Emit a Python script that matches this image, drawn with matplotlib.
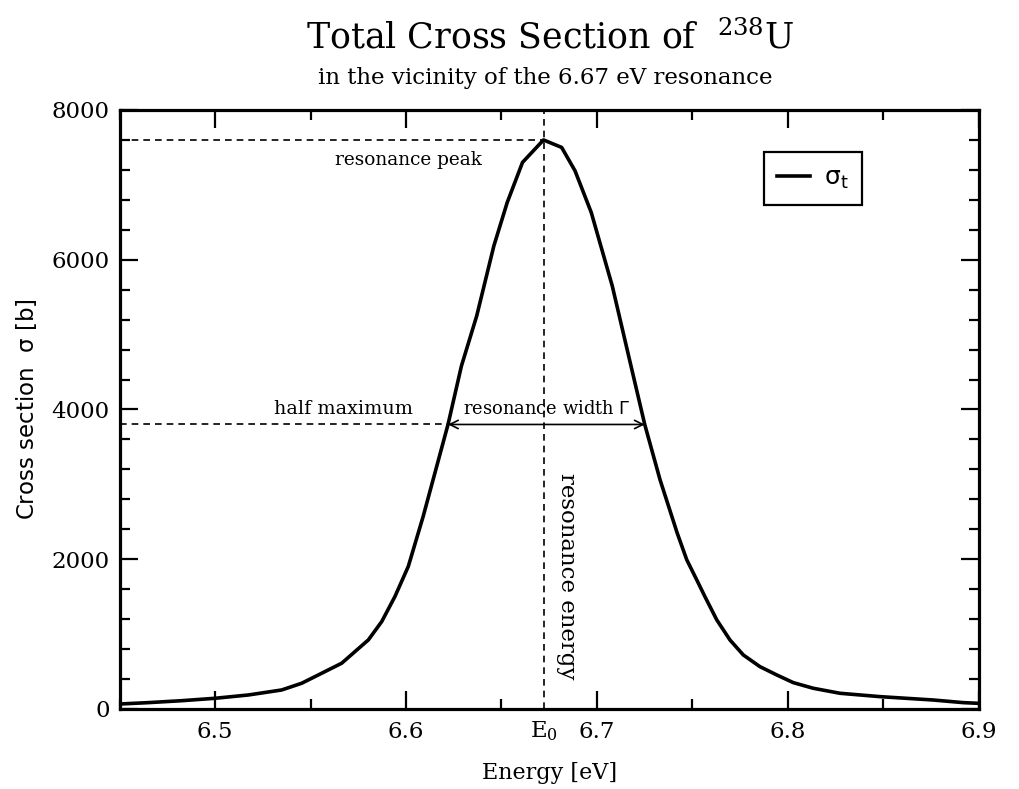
import numpy as np
import matplotlib.pyplot as plt
from matplotlib.ticker import MultipleLocator
from matplotlib.transforms import blended_transform_factory

# Total cross section of U-238 around the 6.67 eV resonance
energy = [6.4503, 6.4651, 6.4826, 6.5000, 6.5174, 6.5349, 6.5454, 6.5559,
          6.5663, 6.5733, 6.5803, 6.5873, 6.5942, 6.6012, 6.609, 6.622,
          6.629, 6.637, 6.646, 6.653, 6.661, 6.672, 6.6815, 6.6885, 6.697,
          6.708, 6.717, 6.725, 6.733, 6.742, 6.7470, 6.7522, 6.7565, 6.7627,
          6.7696, 6.7766, 6.7853, 6.7941, 6.8028, 6.8132, 6.8272, 6.8482,
          6.8761, 6.8918, 6.8996]
sigma_t = [67, 85, 111, 143, 187, 254, 344, 478,
           611, 767, 923, 1168, 1502, 1904, 2573, 3800,
           4579, 5248, 6185, 6765, 7300, 7600, 7500, 7188, 6631,
           5650, 4669, 3800, 3063, 2350, 1993, 1726, 1502, 1191,
           923, 722, 566, 455, 352, 277, 210, 165,
           120, 85, 76]

E0 = 6.672
peak = 7600
half_max = peak / 2
half_left = 6.622
half_right = 6.725

plt.rcParams['font.family'] = 'DejaVu Serif'
plt.rcParams['mathtext.fontset'] = 'dejavuserif'

fig = plt.figure(figsize=(10.19, 7.89), dpi=100)
ax = fig.add_axes([0.1173, 0.1014, 0.8434, 0.7592])

ax.plot(energy, sigma_t, color='black', lw=2.6, label=r'$\sigma_t$', zorder=3)

# guide lines
ax.plot([6.45, E0], [peak, peak], color='black', lw=1.2, ls=(0, (4, 3)))
ax.plot([6.45, half_left], [half_max, half_max], color='black', lw=1.2, ls=(0, (4, 3)))
ax.axvline(E0, color='black', lw=1.2, ls=(0, (4, 3)))
ax.annotate('', xy=(half_left, half_max), xytext=(half_right, half_max),
            arrowprops=dict(arrowstyle='<->', color='black', lw=1.2,
                            shrinkA=0, shrinkB=0, mutation_scale=15))

ax.text(6.6015, 7330, 'resonance peak', fontsize=13.3, ha='center', va='center')
ax.text(6.5675, 4010, 'half maximum', fontsize=13.8, ha='center', va='center')
ax.text(6.6735, 4010, r'resonance width $\mathsf{\Gamma}$', fontsize=12.9,
        ha='center', va='center')
ax.text(6.6845, 1770, 'resonance energy', fontsize=16.5, rotation=270,
        ha='center', va='center')

ax.set_xlim(6.45, 6.9)
ax.set_ylim(0, 8000)
ax.xaxis.set_major_locator(MultipleLocator(0.1))
ax.xaxis.set_minor_locator(MultipleLocator(0.05))
ax.yaxis.set_major_locator(MultipleLocator(2000))
ax.yaxis.set_minor_locator(MultipleLocator(400))
ax.set_xticks([6.5, 6.6, 6.7, 6.8, 6.9])
ax.tick_params(which='both', direction='in', top=True, right=True,
               labelsize=16.5, width=1.6, pad=9)
ax.tick_params(axis='y', pad=7)
ax.tick_params(which='major', length=13)
ax.tick_params(which='minor', length=7)
for s in ax.spines.values():
    s.set_linewidth(2.3)

trans = blended_transform_factory(ax.transData, ax.transAxes)
ax.text(E0, -0.018, r'E$_0$', transform=trans, fontsize=16.5, ha='center', va='top')

ax.set_xlabel('Energy [eV]', fontsize=16, labelpad=13)
ax.set_ylabel(r'Cross section  $\mathsf{\sigma}$ [b]', fontsize=16.5, labelpad=9,
              family='DejaVu Sans')

fig.text(0.54, 0.952, r'Total Cross Section of  $^{238}$U', fontsize=25,
         ha='center', va='center')
fig.text(0.535, 0.901, 'in the vicinity of the 6.67 eV resonance', fontsize=16.5,
         ha='center', va='center')

leg = ax.legend(loc='upper right', bbox_to_anchor=(0.864, 0.93), borderaxespad=0,
                frameon=True, fancybox=False, handlelength=1.3, handletextpad=0.55,
                prop={'family': 'DejaVu Sans', 'size': 18}, borderpad=0.55)
leg.get_frame().set_edgecolor('black')
leg.get_frame().set_linewidth(1.6)
leg.get_frame().set_alpha(1)
for t in leg.get_texts():
    t.set_text(r'$\mathsf{\sigma_t}$')

fig.savefig('out.png', dpi=100)
